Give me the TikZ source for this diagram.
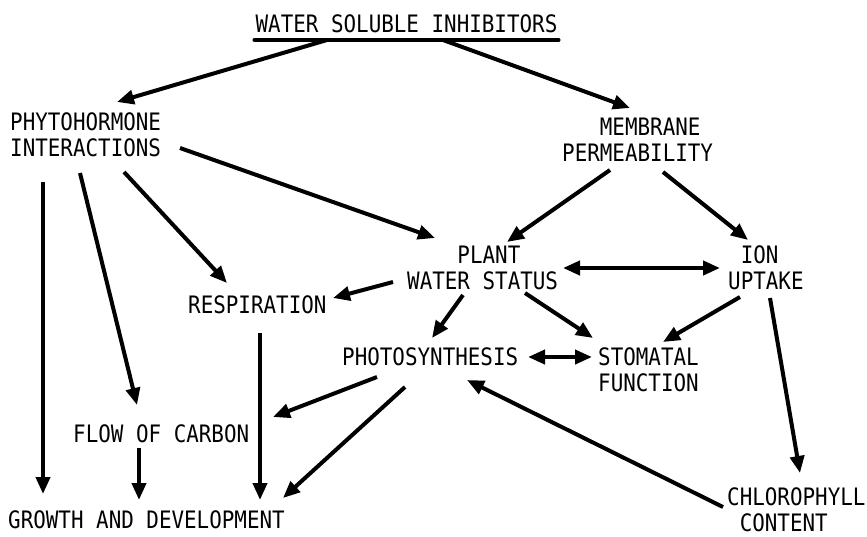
\documentclass[tikz,border=0pt]{standalone}
\usepackage{fontspec}
\setmonofont[FakeStretch=0.87]{DejaVu Sans Mono}
\usetikzlibrary{arrows.meta}

% two lines set from the first baseline down
\newcommand{\twoline}[1]{\begin{tabular}[t]{@{}l@{}}#1\end{tabular}}

\begin{document}
\begin{tikzpicture}[x=1pt, y=-1pt,
  box/.style={inner sep=0pt, anchor=base west},
  arr/.style={line width=4pt, -{Triangle[length=17pt,width=14pt]}},
  both/.style={line width=4pt, {Triangle[length=17pt,width=14pt]}-{Triangle[length=17pt,width=14pt]}},
  font=\ttfamily\fontsize{24}{26.5}\selectfont]
\useasboundingbox (0,0) rectangle (867,536);

\node[inner sep=0pt, anchor=base] (title) at (406.5,32) {WATER SOLUBLE INHIBITORS};
\node[box] (phyto)  at (10,130)  {\twoline{PHYTOHORMONE\\INTERACTIONS}};
\node[box] (membr)  at (562,135) {\twoline{\phantom{000}MEMBRANE\\PERMEABILITY}};
\node[box] (plant)  at (407,263) {\twoline{\phantom{0000}PLANT\\WATER STATUS}};
\node[box] (ion)    at (728,263) {\twoline{\phantom{0}ION\\UPTAKE}};
\node[box] (resp)   at (188,313) {RESPIRATION};
\node[box] (photo)  at (342,365) {PHOTOSYNTHESIS};
\node[box] (stoma)  at (598,365) {\twoline{STOMATAL\\FUNCTION}};
\node[box] (carbon) at (73,442)  {FLOW OF CARBON};
\node[box] (growth) at (8,528)   {GROWTH AND DEVELOPMENT};
\node[box] (chloro) at (727,505) {\twoline{CHLOROPHYLL\\\phantom{0}CONTENT}};

% underline of the heading
\draw[line width=4pt, line cap=round]
  ([shift={(-1,8)}]title.base west) -- ([shift={(1,8)}]title.base east);

\path[arr]
([shift={(-79.5,8)}]title.base) edge ([shift={(107,-28)}]phyto.base west)
([shift={(36.5,8)}]title.base)  edge ([shift={(68,-27)}]membr.base west)
([shift={(170,18)}]phyto.base west) edge ([shift={(28,-25)}]plant.base west)
([shift={(33,52)}]phyto.base west)  edge ([shift={(35,-34)}]growth.base west)
([shift={(70,43)}]phyto.base west)  edge ([shift={(64,-37)}]carbon.base west)
([shift={(114,42)}]phyto.base west) edge ([shift={(39,-30)}]resp.base west)
([shift={(48,35)}]membr.base west)  edge ([shift={(100,-21)}]plant.base west)
([shift={(101,37)}]membr.base west) edge ([shift={(20,-23)}]ion.base west)
([shift={(-14,19)}]plant.base west) edge ([shift={(145,-15)}]resp.base west)
([shift={(56,32)}]plant.base west)  edge ([shift={(90,-27)}]photo.base west)
([shift={(118,30)}]plant.base west) edge ([shift={(-5,-27)}]stoma.base west)
([shift={(12,34)}]ion.base west)    edge ([shift={(65,-23)}]stoma.base west)
([shift={(42,35)}]ion.base west)    edge ([shift={(73,-32)}]chloro.base west)
([shift={(72,20)}]resp.base west)   edge ([shift={(252,-28)}]growth.base west)
([shift={(35,12)}]photo.base west)  edge ([shift={(200,-25)}]carbon.base west)
([shift={(63,22)}]photo.base west)  edge ([shift={(275,-30)}]growth.base west)
([shift={(66,6)}]carbon.base west)  edge ([shift={(131,-28)}]growth.base west)
([shift={(-4,2)}]chloro.base west)  edge ([shift={(125,15)}]photo.base west);

\path[both]
([shift={(156,5)}]plant.base west)  edge ([shift={(-8,5)}]ion.base west)
([shift={(186,-8)}]photo.base west) edge ([shift={(-6,-8)}]stoma.base west);
\end{tikzpicture}
\end{document}
